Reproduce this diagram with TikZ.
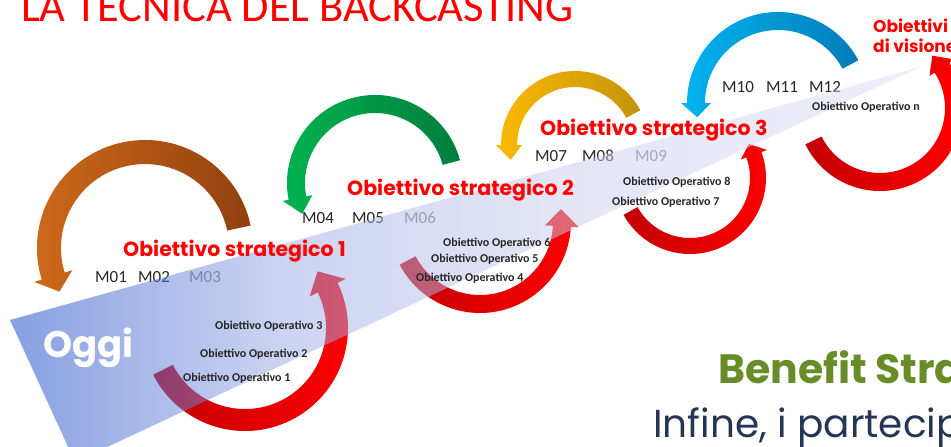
\documentclass[tikz,border=0pt]{standalone}
\usepackage{fontspec}
\setmainfont{Carlito}
\newfontfamily\fontPoppins{Poppins}
\usetikzlibrary{calc}
\definecolor{figRosso}{RGB}{255,0,0}
\definecolor{figRossoScuro}{RGB}{195,0,5}
\definecolor{figMarroneChiaro}{RGB}{205,105,25}
\definecolor{figMarroneScuro}{RGB}{145,65,15}
\definecolor{figVerdeChiaro}{RGB}{0,180,80}
\definecolor{figVerdeScuro}{RGB}{0,125,60}
\definecolor{figOroChiaro}{RGB}{252,185,0}
\definecolor{figOroScuro}{RGB}{195,148,10}
\definecolor{figAzzurroChiaro}{RGB}{0,180,240}
\definecolor{figAzzurroScuro}{RGB}{0,125,185}
\definecolor{figBandaA}{RGB}{15,65,195}
\definecolor{figBandaB}{RGB}{155,169,229}
\definecolor{figBandaC}{RGB}{201,205,237}
\definecolor{figBandaD}{RGB}{217,221,245}
\definecolor{figVerdeTesto}{RGB}{103,140,40}
\definecolor{figBluTesto}{RGB}{35,55,85}
\pgfdeclarehorizontalshading{bandaOggi}{100bp}{color(0bp)=(figBandaA); color(25bp)=(figBandaA);
  color(40bp)=(figBandaB); color(55bp)=(figBandaC); color(75bp)=(figBandaD); color(100bp)=(figBandaD)}

% nastro curvo: centro, raggio, semilarghezza, angolo coda, angolo base punta, angolo punta, semilarghezza punta, stile
\newcommand{\nastro}[8]{%
  \pgfmathsetmacro\rEst{#2+#3}\pgfmathsetmacro\rInt{#2-#3}%
  \pgfmathsetmacro\rTestaEst{#2+#7}\pgfmathsetmacro\rTestaInt{#2-#7}%
  \path[#8] ($#1+(#4:\rEst)$) arc[start angle=#4, end angle=#5, radius=\rEst]
    -- ($#1+(#5:\rTestaEst)$) -- ($#1+(#6:#2)$) -- ($#1+(#5:\rTestaInt)$)
    -- ($#1+(#5:\rInt)$) arc[start angle=#5, end angle=#4, radius=\rInt] -- cycle;}

\begin{document}
\begin{tikzpicture}[
  x=1pt, y=-1pt,
  titolo/.style={font=\fontsize{44.5}{48}\selectfont, text=figRosso, anchor=base west, inner sep=0pt},
  strat/.style={font=\fontPoppins\bfseries\fontsize{20.5}{22}\selectfont, text=figRosso,
                anchor=base west, inner sep=0pt},
  visione/.style={strat, font=\fontPoppins\bfseries\fontsize{17}{19}\selectfont},
  mese/.style={font=\fontsize{17}{18}\selectfont, text=black!85, anchor=base west, inner sep=0pt},
  meseTenue/.style={mese, text=black!50},
  oper/.style={font=\bfseries\fontsize{12}{13}\selectfont, text=black!85, anchor=base west, inner sep=0pt},
  arcoMarrone/.style={left color=figMarroneChiaro, right color=figMarroneScuro},
  arcoVerde/.style={left color=figVerdeChiaro, right color=figVerdeScuro},
  arcoOro/.style={left color=figOroChiaro, right color=figOroScuro},
  arcoAzzurro/.style={left color=figAzzurroChiaro, right color=figAzzurroScuro},
  arcoRosso/.style={left color=figRossoScuro, right color=figRosso}
]
\useasboundingbox (0,0) rectangle (951,447);
\clip (0,0) rectangle (951,447);

\node[titolo] (titolo) at (21,21) {LA TECNICA DEL BACKCASTING};

% frecce di ritorno (sopra) e di avanzamento (sotto)
\nastro{(145,248)}{96}{12}{-12}{-197}{-207}{20}{arcoMarrone}
\nastro{(375,183)}{79}{9}{-15}{-191}{-203}{15}{arcoVerde}
\nastro{(575,145)}{66}{8}{-28}{-180}{-193}{13}{arcoOro}
\nastro{(778,103)}{82}{9}{-28}{-180}{-190}{15}{arcoAzzurro}
\nastro{(245,328)}{92}{11}{153}{-26}{-38}{20}{arcoRosso}
\nastro{(480,222)}{82}{9}{152}{3}{-9}{17}{arcoRosso}
\nastro{(690,178)}{68}{8}{151}{-20}{-30}{14}{arcoRosso}
\nastro{(880,108)}{74}{9}{154}{-33}{-45}{15}{arcoRosso}

\node[mese] (m01) at (95,282) {M01};
\node[mese] (m02) at (138,282) {M02};
\node[meseTenue] (m03) at (189,282) {M03};
\node[mese] (m04) at (302,223) {M04};
\node[mese] (m05) at (352,223) {M05};
\node[meseTenue] (m06) at (404,223) {M06};
\node[mese] (m07) at (535,161) {M07};
\node[mese] (m08) at (582,161) {M08};
\node[meseTenue] (m09) at (635,161) {M09};
\node[mese] (m10) at (722,92) {M10};
\node[mese] (m11) at (766,92) {M11};
\node[mese] (m12) at (809,92) {M12};

% banda del percorso
\path[shading=bandaOggi, fill opacity=0.5] (10,320) -- (920,67) -- (75,462) -- cycle;

\node[font=\fontPoppins\bfseries\fontsize{37}{40}\selectfont, text=white, anchor=base west, inner sep=0pt]
  (oggi) at (43,357) {Oggi};

\node[strat] (os1) at (123,256) {Obiettivo strategico 1};
\node[strat] (os2) at (347,195) {Obiettivo strategico 2};
\node[strat] (os3) at (540,135) {Obiettivo strategico 3};
\node[visione] (visione1) at (873,32) {Obiettivi};
\node[visione] (visione2) at (873,52) {di visione};

\node[oper] (oo3) at (215,329) {Obiettivo Operativo 3};
\node[oper] (oo2) at (200,357) {Obiettivo Operativo 2};
\node[oper] (oo1) at (183,381) {Obiettivo Operativo 1};
\node[oper] (oo6) at (443,246) {Obiettivo Operativo 6};
\node[oper] (oo5) at (431,262) {Obiettivo Operativo 5};
\node[oper] (oo4) at (416,281) {Obiettivo Operativo 4};
\node[oper] (oo8) at (623,185) {Obiettivo Operativo 8};
\node[oper] (oo7) at (612,205) {Obiettivo Operativo 7};
\node[oper] (oon) at (812,110) {Obiettivo Operativo n};

\node[font=\fontPoppins\bfseries\fontsize{41}{44}\selectfont, text=figVerdeTesto, anchor=base west,
      inner sep=0pt] (benefit) at (718,383) {Benefit Stra};
\node[font=\fontPoppins\fontsize{39}{42}\selectfont, text=figBluTesto, anchor=base west,
      inner sep=0pt] (infine) at (653,437) {Infine, i partecip};
\end{tikzpicture}
\end{document}
